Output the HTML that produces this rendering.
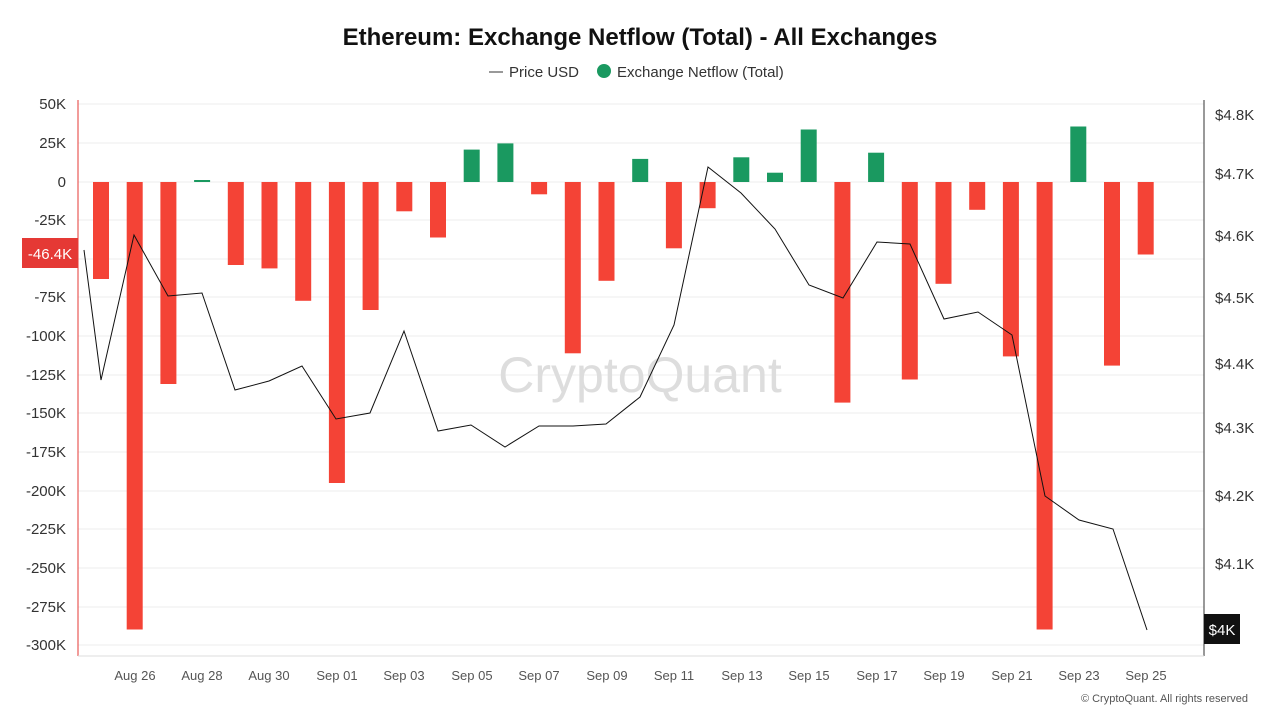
<!DOCTYPE html>
<html><head><meta charset="utf-8"><style>
body{margin:0;background:#fff;font-family:"Liberation Sans",sans-serif}
</style></head><body>
<svg width="1280" height="720" xmlns="http://www.w3.org/2000/svg" font-family="Liberation Sans, sans-serif">
<rect width="1280" height="720" fill="#fff"/>
<text x="640" y="45" text-anchor="middle" font-size="24" font-weight="bold" fill="#111">Ethereum: Exchange Netflow (Total) - All Exchanges</text>
<line x1="489" y1="72" x2="503" y2="72" stroke="#333" stroke-width="1"/>
<text x="509" y="77" font-size="15" fill="#333">Price USD</text>
<circle cx="604" cy="71" r="7" fill="#1a9960"/>
<text x="617" y="77" font-size="15" fill="#333">Exchange Netflow (Total)</text>
<g stroke="#eee" stroke-width="1">
<line x1="78" x2="1204" y1="104" y2="104"/><line x1="78" x2="1204" y1="143" y2="143"/><line x1="78" x2="1204" y1="182" y2="182"/><line x1="78" x2="1204" y1="220" y2="220"/><line x1="78" x2="1204" y1="259" y2="259"/><line x1="78" x2="1204" y1="297" y2="297"/><line x1="78" x2="1204" y1="336" y2="336"/><line x1="78" x2="1204" y1="375" y2="375"/><line x1="78" x2="1204" y1="413" y2="413"/><line x1="78" x2="1204" y1="452" y2="452"/><line x1="78" x2="1204" y1="491" y2="491"/><line x1="78" x2="1204" y1="529" y2="529"/><line x1="78" x2="1204" y1="568" y2="568"/><line x1="78" x2="1204" y1="607" y2="607"/><line x1="78" x2="1204" y1="645" y2="645"/>
</g>
<g font-size="15" fill="#333" text-anchor="end">
<text x="66" y="109">50K</text><text x="66" y="148">25K</text><text x="66" y="187">0</text><text x="66" y="225">-25K</text><text x="66" y="302">-75K</text><text x="66" y="341">-100K</text><text x="66" y="380">-125K</text><text x="66" y="418">-150K</text><text x="66" y="457">-175K</text><text x="66" y="496">-200K</text><text x="66" y="534">-225K</text><text x="66" y="573">-250K</text><text x="66" y="612">-275K</text><text x="66" y="650">-300K</text>
</g>
<g font-size="15" fill="#333">
<text x="1215" y="120">$4.8K</text><text x="1215" y="179">$4.7K</text><text x="1215" y="241">$4.6K</text><text x="1215" y="303">$4.5K</text><text x="1215" y="369">$4.4K</text><text x="1215" y="433">$4.3K</text><text x="1215" y="501">$4.2K</text><text x="1215" y="569">$4.1K</text>
</g>
<text x="640" y="392" text-anchor="middle" font-size="50" fill="#ddd">CryptoQuant</text>
<g fill="#f44336">
<rect x="93" y="182" width="16" height="97"/>
<rect x="126.7" y="182" width="16" height="447.5"/>
<rect x="160.4" y="182" width="16" height="202"/>
<rect x="227.8" y="182" width="16" height="83"/>
<rect x="261.5" y="182" width="16" height="86.4"/>
<rect x="295.2" y="182" width="16" height="118.8"/>
<rect x="328.9" y="182" width="16" height="301"/>
<rect x="362.6" y="182" width="16" height="128"/>
<rect x="396.3" y="182" width="16" height="29.3"/>
<rect x="430" y="182" width="16" height="55.5"/>
<rect x="531.1" y="182" width="16" height="12.3"/>
<rect x="564.8" y="182" width="16" height="171.3"/>
<rect x="598.5" y="182" width="16" height="98.8"/>
<rect x="665.9" y="182" width="16" height="66.3"/>
<rect x="699.6" y="182" width="16" height="26.2"/>
<rect x="834.4" y="182" width="16" height="220.6"/>
<rect x="901.8" y="182" width="16" height="197.5"/>
<rect x="935.5" y="182" width="16" height="101.8"/>
<rect x="969.2" y="182" width="16" height="27.8"/>
<rect x="1002.9" y="182" width="16" height="174.4"/>
<rect x="1036.6" y="182" width="16" height="447.5"/>
<rect x="1104" y="182" width="16" height="183.6"/>
<rect x="1137.7" y="182" width="16" height="72.5"/>
</g>
<g fill="#1a9960">
<rect x="194.1" y="180" width="16" height="2"/>
<rect x="463.7" y="149.6" width="16" height="32.4"/>
<rect x="497.4" y="143.4" width="16" height="38.6"/>
<rect x="632.2" y="158.9" width="16" height="23.1"/>
<rect x="733.3" y="157.3" width="16" height="24.7"/>
<rect x="767" y="172.7" width="16" height="9.3"/>
<rect x="800.7" y="129.5" width="16" height="52.5"/>
<rect x="868.1" y="152.7" width="16" height="29.3"/>
<rect x="1070.3" y="126.5" width="16" height="55.5"/>
</g>
<polyline fill="none" stroke="#111" stroke-width="1" points="84,250 101,380 134,235 168,296 202,293 235,390 269,381 302,366 336,419 370,413 404,331 438,431 471,425 505,447 539,426 573,426 606,424 640,397 674,325 708,167 741,193 775,229 809,285 843,298 877,242 910,244 944,319 978,312 1012,335 1045,496 1079,520 1113,529 1147,630"/>
<line x1="78" y1="100" x2="78" y2="656" stroke="#e53935" stroke-width="1"/>
<line x1="1204" y1="100" x2="1204" y2="656" stroke="#333" stroke-width="1"/>
<line x1="78" y1="656" x2="1204" y2="656" stroke="#ddd"/>
<rect x="22" y="238" width="56" height="30" fill="#e53935"/>
<text x="50" y="259" text-anchor="middle" font-size="15" fill="#fff">-46.4K</text>
<rect x="1204" y="614" width="36" height="30" fill="#111"/>
<text x="1222" y="635" text-anchor="middle" font-size="15" fill="#fff">$4K</text>
<g font-size="13" fill="#555" text-anchor="middle">
<text x="135" y="680">Aug 26</text><text x="202" y="680">Aug 28</text><text x="269" y="680">Aug 30</text><text x="337" y="680">Sep 01</text><text x="404" y="680">Sep 03</text><text x="472" y="680">Sep 05</text><text x="539" y="680">Sep 07</text><text x="607" y="680">Sep 09</text><text x="674" y="680">Sep 11</text><text x="742" y="680">Sep 13</text><text x="809" y="680">Sep 15</text><text x="877" y="680">Sep 17</text><text x="944" y="680">Sep 19</text><text x="1012" y="680">Sep 21</text><text x="1079" y="680">Sep 23</text><text x="1146" y="680">Sep 25</text>
</g>
<text x="1248" y="702" text-anchor="end" font-size="11" fill="#555">© CryptoQuant. All rights reserved</text>
</svg>
</body></html>
